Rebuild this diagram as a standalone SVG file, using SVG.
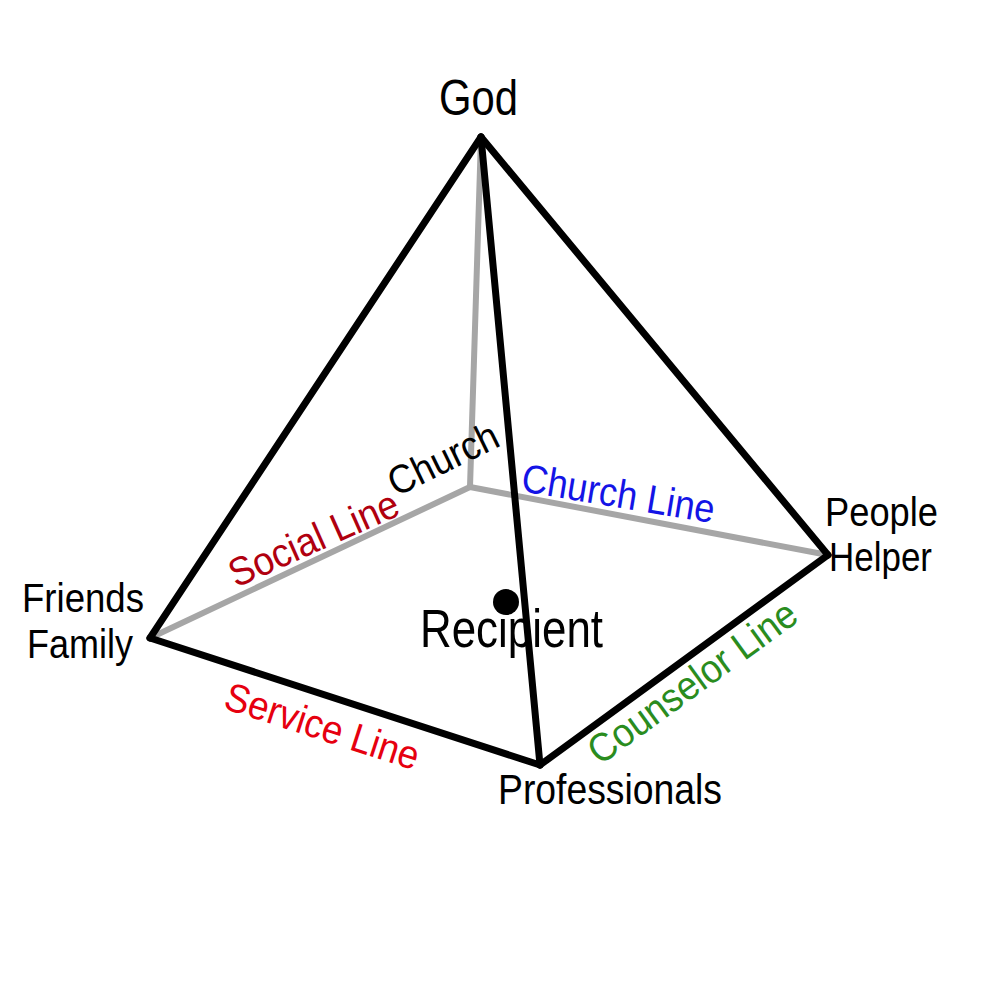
<svg xmlns="http://www.w3.org/2000/svg" width="1000" height="1000" viewBox="0 0 1000 1000">
<style>
.t{font-family:"Liberation Sans",Arial,sans-serif;fill:#000}
.g{stroke:#a6a6a6;stroke-width:6;stroke-linecap:round;fill:none}
.b{stroke:#000;stroke-width:7;stroke-linecap:round;stroke-linejoin:round;fill:none}
</style>
<rect width="1000" height="1000" fill="#fff"/>
<g id="connectors">
<line class="g" x1="481" y1="137" x2="470" y2="487"/>
<line class="g" x1="470" y1="487" x2="150" y2="638"/>
<line class="g" x1="470" y1="487" x2="828" y2="555"/>
<line class="b" x1="481" y1="137" x2="150" y2="638"/>
<line class="b" x1="481" y1="137" x2="828" y2="555"/>
<line class="b" x1="150" y1="638" x2="540" y2="765"/>
<line class="b" x1="540" y1="765" x2="828" y2="555"/>
</g>
<g id="recipient">
<circle cx="506" cy="602" r="13" fill="#000"/>
<text class="t" x="420" y="647" font-size="54" textLength="183" lengthAdjust="spacingAndGlyphs">Recipient</text>
</g>
<g id="apex-edge">
<line class="b" x1="481" y1="137" x2="540" y2="765"/>
</g>
<g id="god"><text class="t" x="439" y="115" font-size="50" textLength="79" lengthAdjust="spacingAndGlyphs">God</text></g>
<g id="church"><text class="t" font-size="40" transform="translate(396,497) rotate(-26)" textLength="118" lengthAdjust="spacingAndGlyphs">Church</text></g>
<g id="friends-family">
<text class="t" x="22" y="612" font-size="41" textLength="122" lengthAdjust="spacingAndGlyphs">Friends</text>
<text class="t" x="27" y="658" font-size="41" textLength="106" lengthAdjust="spacingAndGlyphs">Family</text>
</g>
<g id="people-helper">
<text class="t" x="825" y="526" font-size="41" textLength="113" lengthAdjust="spacingAndGlyphs">People</text>
<text class="t" x="829" y="571" font-size="41" textLength="103" lengthAdjust="spacingAndGlyphs">Helper</text>
</g>
<g id="professionals"><text class="t" x="498" y="804" font-size="43" textLength="224" lengthAdjust="spacingAndGlyphs">Professionals</text></g>
<g id="labels">
<text class="t" font-size="40" style="fill:#b0000f" transform="translate(236,588) rotate(-24)" textLength="182" lengthAdjust="spacingAndGlyphs">Social Line</text>
<text class="t" font-size="40" style="fill:#1414e6" transform="translate(520,491) rotate(9.5)" textLength="195" lengthAdjust="spacingAndGlyphs">Church Line</text>
<text class="t" font-size="40" style="fill:#e6000f" transform="translate(222,708) rotate(18)" textLength="202" lengthAdjust="spacingAndGlyphs">Service Line</text>
<text class="t" font-size="40" style="fill:#2a8c1e" transform="translate(600,766) rotate(-36)" textLength="248" lengthAdjust="spacingAndGlyphs">Counselor Line</text>
</g>
</svg>
